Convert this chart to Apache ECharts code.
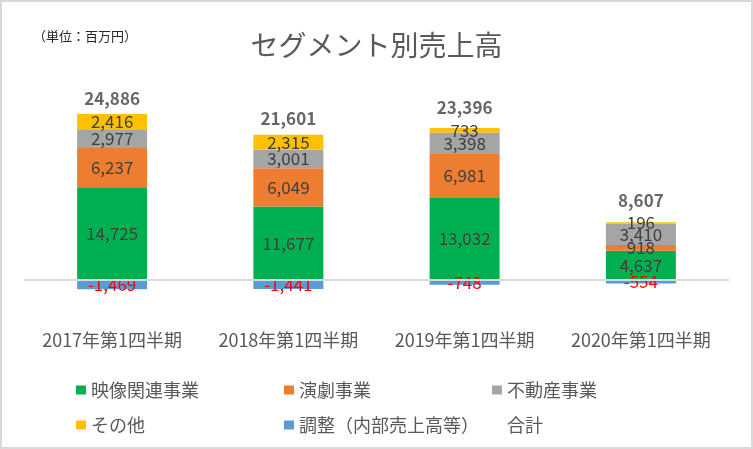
<!DOCTYPE html>
<html>
<head>
<meta charset="utf-8">
<script src="https://cdn.jsdelivr.net/npm/echarts@6/dist/echarts.min.js"></script>
<style>
html,body{margin:0;padding:0;background:#fff;}
#c{width:753px;height:449px;}
</style>
</head>
<body>
<div id="c"></div>
<script>
const categories = ['2017年第1四半期', '2018年第1四半期', '2019年第1四半期', '2020年第1四半期'];
const eizou = [14725, 11677, 13032, 4637];
const engeki = [6237, 6049, 6981, 918];
const fudousan = [2977, 3001, 3398, 3410];
const sonota = [2416, 2315, 733, 196];
const chousei = [-1469, -1441, -748, -554];
const totals = [24886, 21601, 23396, 8607];

const FONT = "'Noto Sans CJK JP', 'Noto Sans', sans-serif";
const fmt = v => Number(v).toLocaleString('en-US');

function barSeries(name, data, color, labelColor) {
  return {
    name, type: 'bar', stack: 'seg', data, barWidth: 70,
    itemStyle: { color },
    label: {
      show: true, position: 'inside', color: labelColor || '#404040',
      fontSize: 17, fontFamily: FONT,
      formatter: p => fmt(p.value)
    }
  };
}

const chart = echarts.init(document.getElementById('c'), null, { renderer: 'canvas' });
const legendBase = {
  orient: 'vertical', icon: 'rect', itemWidth: 10, itemHeight: 9, itemGap: 17,
  textStyle: { color: '#595959', fontSize: 18, fontFamily: FONT, lineHeight: 18 },
  top: 376, selectedMode: false
};
chart.setOption({
  animation: false,
  backgroundColor: '#ffffff',
  textStyle: { fontFamily: FONT },
  title: {
    text: 'セグメント別売上高', left: 'center', top: 26,
    textStyle: { color: '#595959', fontSize: 28, fontWeight: 'normal', fontFamily: FONT, lineHeight: 28 }
  },
  graphic: [
    { type: 'rect', shape: { x: 1, y: 1, width: 751, height: 447 }, style: { fill: 'none', stroke: '#D9D9D9', lineWidth: 2 }, silent: true },
    { type: 'text', left: 33, top: 30, style: { text: '（単位：百万円）', fill: '#262626', font: '13px ' + FONT } }
  ],
  legend: [
    Object.assign({}, legendBase, { left: 71, data: ['映像関連事業', 'その他'] }),
    Object.assign({}, legendBase, { left: 279, data: ['演劇事業', '調整（内部売上高等）'] }),
    Object.assign({}, legendBase, { left: 487, data: ['不動産事業', { name: '合計', itemStyle: { color: 'rgba(0,0,0,0)' } }] })
  ],
  grid: { left: 24, right: 24, top: 91, bottom: 121.75, containLabel: false, outerBoundsMode: 'none' },
  xAxis: {
    type: 'category', data: categories,
    axisLine: { show: false }, axisTick: { show: false },
    axisLabel: { color: '#595959', fontSize: 18, fontFamily: FONT, margin: 4, interval: 0 }
  },
  yAxis: {
    type: 'value', min: -7500, max: 30000, interval: 7500,
    axisLine: { show: false }, axisTick: { show: false },
    axisLabel: { show: false }, splitLine: { show: false }
  },
  series: [
    barSeries('映像関連事業', eizou, '#00B050'),
    barSeries('演劇事業', engeki, '#ED7D31'),
    barSeries('不動産事業', fudousan, '#A5A5A5'),
    barSeries('その他', sonota, '#FFC000'),
    barSeries('調整（内部売上高等）', chousei, '#5B9BD5', '#FF0000'),
    {
      name: '合計', type: 'scatter', data: totals, symbolSize: 1,
      itemStyle: { color: 'rgba(0,0,0,0)' },
      label: {
        show: true, position: 'top', distance: 16, color: '#404040',
        fontSize: 17, fontWeight: 'bold', fontFamily: FONT,
        formatter: p => fmt(p.value)
      },
      markLine: {
        silent: true, symbol: ['none', 'none'], label: { show: false },
        lineStyle: { color: '#D9D9D9', width: 2, type: 'solid' },
        data: [{ yAxis: 0 }]
      },
      z: 5
    }
  ]
});
</script>
</body>
</html>
